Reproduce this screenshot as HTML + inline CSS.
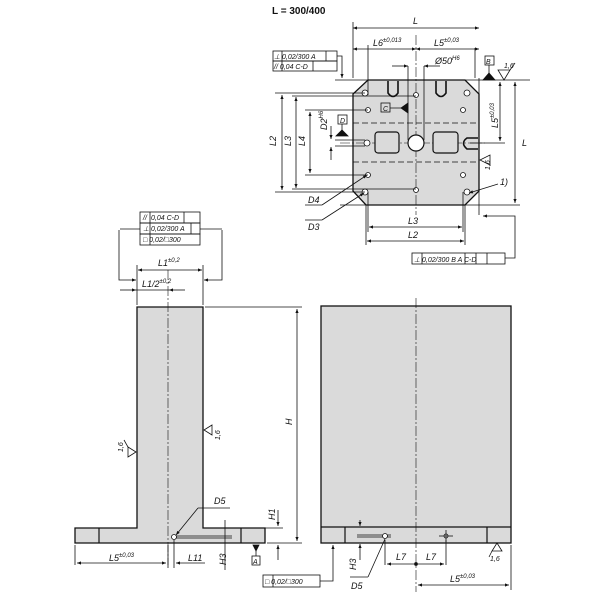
<!DOCTYPE html>
<html><head><meta charset="utf-8"><style>
html,body{margin:0;padding:0;background:#fff;width:600px;height:600px;overflow:hidden}
svg{display:block}
text{font-family:"Liberation Sans",sans-serif;font-style:italic;fill:#111}
</style></head><body>
<svg width="600" height="600" viewBox="0 0 600 600" xmlns="http://www.w3.org/2000/svg">
<defs>
<marker id="a" viewBox="0 0 10 10" refX="10" refY="5" markerWidth="7" markerHeight="5" orient="auto-start-reverse"><path d="M0,1 L10,5 L0,9z" fill="#111"/></marker>
</defs>
<g stroke="#111" fill="none" stroke-width="0.8">
<path d="M368,80 L465,80 L479,94 L479,191 L465,205 L366,205 L353,191 L353,94 Z" fill="#dadada" stroke-width="1.3"/>
<line x1="353" y1="123" x2="479" y2="123" stroke-dasharray="6,3"/>
<line x1="353" y1="162" x2="479" y2="162" stroke-dasharray="6,3"/>
<line x1="416" y1="35" x2="416" y2="215" stroke-dasharray="10,2,2,2" stroke-width="0.6"/>
<line x1="340" y1="143" x2="485" y2="143" stroke-dasharray="10,2,2,2" stroke-width="0.6"/>
<rect x="375" y="132" width="24" height="21" rx="3" fill="#dadada" stroke-width="1.2"/>
<rect x="433" y="132" width="25" height="21" rx="3" fill="#dadada" stroke-width="1.2"/>
<circle cx="416" cy="143" r="8" fill="#fff" stroke-width="1.2"/>
<circle cx="367" cy="143" r="3" fill="#fff"/>
<g fill="#fff">
<circle cx="365" cy="93" r="3"/><circle cx="467" cy="93" r="3"/>
<circle cx="365" cy="192" r="3"/><circle cx="467" cy="192" r="3"/>
<circle cx="416" cy="95" r="2.5"/><circle cx="416" cy="190" r="2.5"/>
<circle cx="368" cy="110" r="2.5"/><circle cx="463" cy="110" r="2.5"/>
<circle cx="368" cy="175" r="2.5"/><circle cx="463" cy="175" r="2.5"/>
</g>
<path d="M388,81 L388,93 Q393,100 398,93 L398,81" stroke-width="1.6"/>
<path d="M436,81 L436,93 Q441,100 446,93 L446,81" stroke-width="1.6"/>
<path d="M478,138 L467,138 Q460,143 467,149 L478,149" stroke-width="1.6"/>
<line x1="353" y1="78" x2="353" y2="22"/><line x1="479" y1="78" x2="479" y2="215"/>
<line x1="353" y1="28" x2="479" y2="28" marker-start="url(#a)" marker-end="url(#a)"/>
<line x1="368" y1="95" x2="368" y2="45"/><line x1="475" y1="48" x2="475" y2="78"/>
<line x1="353" y1="49" x2="416" y2="49" marker-start="url(#a)" marker-end="url(#a)"/>
<line x1="416" y1="49" x2="479" y2="49" marker-start="url(#a)" marker-end="url(#a)"/>
<line x1="392" y1="66" x2="408" y2="66" marker-end="url(#a)"/><line x1="424" y1="66" x2="440" y2="66" marker-start="url(#a)"/>
<line x1="408" y1="66" x2="408" y2="140"/><line x1="424" y1="66" x2="424" y2="140"/>
<line x1="335" y1="80" x2="530" y2="80"/>
<line x1="340" y1="205" x2="520" y2="205"/>
<line x1="515" y1="82" x2="515" y2="203" marker-start="url(#a)" marker-end="url(#a)"/>
<line x1="500" y1="82" x2="500" y2="141" marker-start="url(#a)" marker-end="url(#a)"/>
<line x1="470" y1="143" x2="505" y2="143"/>
<line x1="275" y1="93" x2="365" y2="93"/><line x1="275" y1="192" x2="365" y2="192"/>
<line x1="282" y1="95" x2="282" y2="190" marker-start="url(#a)" marker-end="url(#a)"/>
<line x1="292" y1="96" x2="416" y2="96"/><line x1="292" y1="189" x2="416" y2="189"/>
<line x1="296" y1="97" x2="296" y2="188" marker-start="url(#a)" marker-end="url(#a)"/>
<line x1="305" y1="110" x2="368" y2="110"/><line x1="305" y1="175" x2="368" y2="175"/>
<line x1="310" y1="112" x2="310" y2="173" marker-start="url(#a)" marker-end="url(#a)"/>
<line x1="335" y1="140" x2="365" y2="140"/><line x1="335" y1="146" x2="365" y2="146"/>
<line x1="331" y1="126" x2="331" y2="139" marker-end="url(#a)"/><line x1="331" y1="160" x2="331" y2="147" marker-end="url(#a)"/>
<line x1="366" y1="205" x2="366" y2="245"/><line x1="465" y1="205" x2="465" y2="245"/>
<line x1="368" y1="192" x2="368" y2="232"/><line x1="463" y1="192" x2="463" y2="232"/>
<line x1="369" y1="227" x2="462" y2="227" marker-start="url(#a)" marker-end="url(#a)"/>
<line x1="367" y1="241" x2="464" y2="241" marker-start="url(#a)" marker-end="url(#a)"/>
<line x1="322" y1="205" x2="367" y2="175" marker-end="url(#a)"/>
<line x1="322" y1="220" x2="364" y2="193" marker-end="url(#a)"/>
<line x1="305" y1="205" x2="322" y2="205"/><line x1="305" y1="220" x2="322" y2="220"/>
<line x1="498" y1="184" x2="469" y2="193" marker-end="url(#a)"/>
<rect x="273" y="51" width="64" height="10"/><rect x="273" y="61" width="64" height="10"/>
<line x1="282" y1="51" x2="282" y2="71"/><line x1="326" y1="51" x2="326" y2="61"/><line x1="313" y1="61" x2="313" y2="71"/>
<path d="M337,56 L342,56 L342,78" marker-end="url(#a)"/>
<rect x="412" y="253" width="93" height="11"/>
<line x1="422" y1="253" x2="422" y2="264"/><line x1="465" y1="253" x2="465" y2="264"/><line x1="476" y1="253" x2="476" y2="264"/><line x1="487" y1="253" x2="487" y2="264"/>
<path d="M505,258 L515,258 L515,216 L483,216" marker-end="url(#a)"/>
<rect x="485" y="56" width="9" height="9"/><rect x="338" y="115" width="9" height="9"/><rect x="381" y="103" width="9" height="9"/>
<line x1="390" y1="108" x2="408" y2="108"/>
<path d="M408,103 L408,113 L401,108Z" fill="#111"/>
<line x1="342" y1="124" x2="342" y2="130"/>
<path d="M336,136 L348,136 L342,130Z" fill="#111"/>
<path d="M483,80 L495,80 L489,73Z" fill="#111"/><line x1="489" y1="65" x2="489" y2="73"/>
<path d="M504,80 L510,70 L498,70Z"/><line x1="510" y1="70" x2="515" y2="63"/>
<path d="M480,160 L490,155 L490,165Z"/>
</g>
<g font-size="9">
<text x="272" y="14" style="font-style:normal;font-weight:bold" font-size="10">L = 300/400</text>
<text x="413" y="24">L</text>
<text x="373" y="46">L6<tspan font-size="6" dy="-4">±0,013</tspan></text>
<text x="434" y="46">L5<tspan font-size="6" dy="-4">±0,03</tspan></text>
<text x="435" y="64">Ø50<tspan font-size="6" dy="-4">H6</tspan></text>
<text x="274" y="59" font-size="7">⊥ 0,02/300  A</text>
<text x="274" y="69" font-size="7">// 0,04  C-D</text>
<text x="486" y="64" font-size="7">B</text>
<text x="504" y="68" font-size="7">1,6</text>
<text x="383" y="111" font-size="7">C</text>
<text x="340" y="123" font-size="7">D</text>
<text x="276" y="146" transform="rotate(-90 276 146)">L2</text>
<text x="291" y="146" transform="rotate(-90 291 146)">L3</text>
<text x="305" y="146" transform="rotate(-90 305 146)">L4</text>
<text x="327" y="130" transform="rotate(-90 327 130)">D2<tspan font-size="6" dy="-4">H6</tspan></text>
<text x="498" y="128" transform="rotate(-90 498 128)">L5<tspan font-size="6" dy="-4">±0,03</tspan></text>
<text x="522" y="146">L</text>
<text x="490" y="170" font-size="7" transform="rotate(-90 490 170)">1,6</text>
<text x="500" y="185">1)</text>
<text x="308" y="203">D4</text>
<text x="308" y="230">D3</text>
<text x="408" y="224">L3</text>
<text x="408" y="238">L2</text>
<text x="414" y="262" font-size="7">⊥ 0,02/300  B  A  C-D</text>
</g>

<g stroke="#111" fill="none" stroke-width="0.8">
<path d="M137,307 L203,307 L203,528 L265,528 L265,543 L75,543 L75,528 L137,528 Z" fill="#dadada" stroke-width="1.3"/>
<line x1="99" y1="528" x2="99" y2="543" stroke-width="1.2"/><line x1="241" y1="528" x2="241" y2="543" stroke-width="1.2"/>
<line x1="168" y1="270" x2="168" y2="565" stroke-dasharray="10,2,2,2" stroke-width="0.6"/>
<line x1="176" y1="536" x2="232" y2="536"/><line x1="176" y1="538" x2="232" y2="538"/>
<circle cx="174" cy="537" r="2.5" fill="#fff"/>
<line x1="198" y1="508" x2="176" y2="535" marker-end="url(#a)"/>
<line x1="198" y1="508" x2="230" y2="508"/>
<line x1="137" y1="305" x2="137" y2="265"/><line x1="203" y1="305" x2="203" y2="265"/>
<line x1="138" y1="270" x2="202" y2="270" marker-start="url(#a)" marker-end="url(#a)"/>
<line x1="120" y1="290" x2="136" y2="290" marker-end="url(#a)"/><line x1="185" y1="290" x2="169" y2="290" marker-end="url(#a)"/>
<line x1="136" y1="290" x2="169" y2="290"/>
<path d="M119,230 L119,280 L136,280" marker-end="url(#a)"/>
<path d="M222,230 L222,280 L204,280" marker-end="url(#a)"/>
<rect x="140" y="212" width="60" height="11"/><rect x="140" y="223" width="60" height="11"/><rect x="140" y="234" width="60" height="11"/>
<line x1="150" y1="212" x2="150" y2="245"/><line x1="184" y1="212" x2="184" y2="223"/><line x1="191" y1="223" x2="191" y2="234"/>
<line x1="120" y1="229" x2="140" y2="229"/><line x1="200" y1="229" x2="222" y2="229"/>
<line x1="205" y1="307" x2="302" y2="307"/><line x1="267" y1="543" x2="302" y2="543"/>
<line x1="297" y1="309" x2="297" y2="541" marker-start="url(#a)" marker-end="url(#a)"/>
<line x1="265" y1="528" x2="283" y2="528"/>
<line x1="278" y1="510" x2="278" y2="526" marker-end="url(#a)"/><line x1="278" y1="560" x2="278" y2="545" marker-end="url(#a)"/>
<line x1="225" y1="520" x2="225" y2="570"/>
<line x1="75" y1="545" x2="75" y2="565"/><line x1="168" y1="545" x2="168" y2="568"/><line x1="174" y1="540" x2="174" y2="568"/>
<line x1="77" y1="563" x2="166" y2="563" marker-start="url(#a)" marker-end="url(#a)"/>
<line x1="176" y1="563" x2="205" y2="563" marker-start="url(#a)"/>
<path d="M253,545 L259,545 L256,551Z" fill="#111"/><line x1="256" y1="551" x2="256" y2="556"/>
<rect x="252" y="556" width="8" height="9"/>
<path d="M136,452 L128,447 L128,457 Z"/><line x1="128" y1="447" x2="124" y2="440"/>
<path d="M204,430 L212,425 L212,435 Z"/>
</g>
<g font-size="9">
<text x="151" y="220" font-size="7">0,04 C-D</text><text x="143" y="220" font-size="7">//</text>
<text x="143" y="231" font-size="7">⊥  0,02/300  A</text>
<text x="143" y="242" font-size="7">□  0,02/□300</text>
<text x="158" y="266">L1<tspan font-size="6" dy="-4">±0,2</tspan></text>
<text x="142" y="287">L1/2<tspan font-size="6" dy="-4">±0,2</tspan></text>
<text x="292" y="425" transform="rotate(-90 292 425)">H</text>
<text x="123" y="452" font-size="7" transform="rotate(-90 123 452)">1,6</text>
<text x="220" y="440" font-size="7" transform="rotate(-90 220 440)">1,6</text>
<text x="214" y="504">D5</text>
<text x="275" y="520" transform="rotate(-90 275 520)">H1</text>
<text x="226" y="565" transform="rotate(-90 226 565)">H3</text>
<text x="109" y="561">L5<tspan font-size="6" dy="-4">±0,03</tspan></text>
<text x="188" y="561">L11</text>
<text x="253" y="564" font-size="7">A</text>
</g>

<g stroke="#111" fill="none" stroke-width="0.8">
<rect x="321" y="306" width="190" height="237" fill="#dadada" stroke-width="1.3"/>
<line x1="321" y1="527" x2="511" y2="527" stroke-width="1.2"/>
<line x1="345" y1="527" x2="345" y2="543" stroke-width="1.2"/><line x1="487" y1="527" x2="487" y2="543" stroke-width="1.2"/>
<line x1="416" y1="298" x2="416" y2="592" stroke-dasharray="10,2,2,2" stroke-width="0.6"/>
<line x1="357" y1="535" x2="391" y2="535"/><line x1="357" y1="537" x2="391" y2="537"/>
<circle cx="385" cy="536" r="2.5" fill="#fff"/>
<circle cx="446" cy="536" r="2" fill="#fff"/><line x1="439" y1="536" x2="453" y2="536"/><line x1="446" y1="530" x2="446" y2="542"/>
<line x1="360" y1="520" x2="360" y2="526" marker-end="url(#a)"/><line x1="360" y1="560" x2="360" y2="544" marker-end="url(#a)"/>
<line x1="385" y1="540" x2="385" y2="565"/><line x1="446" y1="540" x2="446" y2="565"/>
<line x1="387" y1="564" x2="414" y2="564" marker-start="url(#a)"/><line x1="444" y1="564" x2="418" y2="564" marker-start="url(#a)"/>
<circle cx="416" cy="564" r="1.5" fill="#111"/>
<line x1="511" y1="545" x2="511" y2="590"/>
<line x1="418" y1="585" x2="509" y2="585" marker-start="url(#a)" marker-end="url(#a)"/>
<line x1="385" y1="539" x2="368" y2="577"/><line x1="350" y1="577" x2="368" y2="577"/>
<rect x="263" y="575" width="57" height="12"/><line x1="273" y1="575" x2="273" y2="587"/>
<path d="M320,581 L333,581 L333,545" marker-end="url(#a)"/>
<path d="M497,543 L492,551 L502,551Z"/><line x1="492" y1="551" x2="489" y2="557"/>
</g>
<g font-size="9">
<text x="356" y="570" transform="rotate(-90 356 570)">H3</text>
<text x="396" y="560">L7</text><text x="426" y="560">L7</text>
<text x="351" y="589">D5</text>
<text x="450" y="582">L5<tspan font-size="6" dy="-4">±0,03</tspan></text>
<text x="490" y="561" font-size="7">1,6</text>
<text x="265" y="584" font-size="7">□ 0,02/□300</text>
</g>
</svg>
</body></html>
